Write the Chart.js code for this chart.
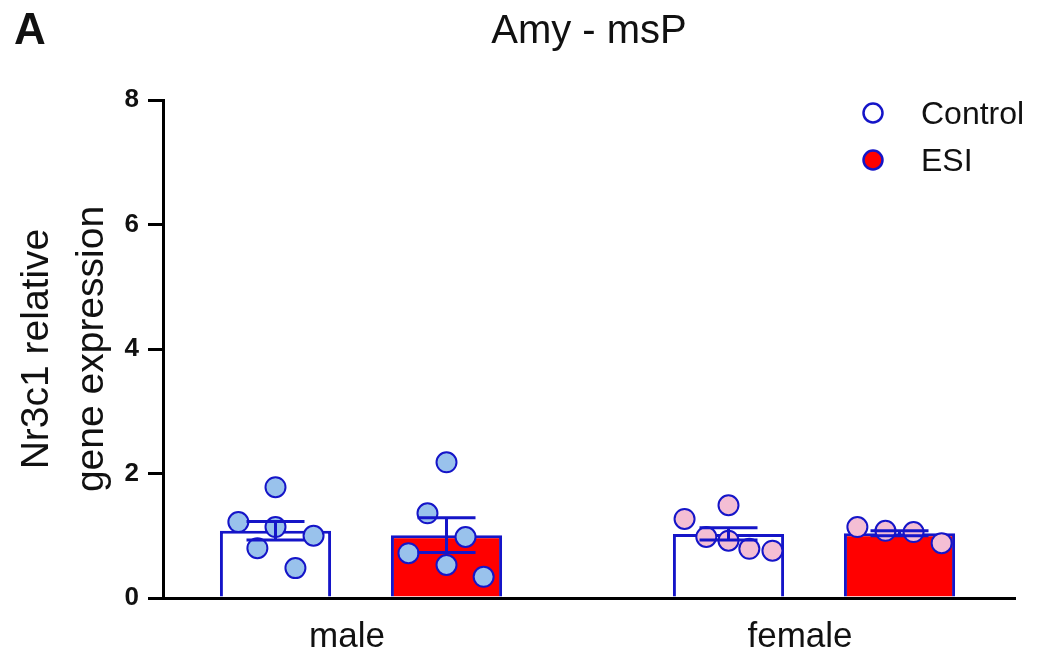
<!DOCTYPE html>
<html>
<head>
<meta charset="utf-8">
<script src="https://cdn.jsdelivr.net/npm/chart.js@4.4.1/dist/chart.umd.min.js"></script>
<style>
  html, body { margin: 0; padding: 0; background: #ffffff; }
  #wrap { width: 1041px; height: 657px; position: relative; }
</style>
</head>
<body>
<div id="wrap"><canvas id="c"></canvas></div>
<script>
// ---------- data ----------
const categories = ['male', 'female'];
const seriesNames = ['Control', 'ESI'];
const yTicks = [0, 2, 4, 6, 8];

const controlMeans = [1.08, 1.03];
const esiMeans = [1.01, 1.04];
const controlSEM = [0.15, 0.10];
const esiSEM = [0.28, 0.04];

// individual animals (y values) and horizontal jitter (in category units)
const maleControlPts = [1.78, 1.22, 1.14, 1.00, 0.80, 0.48];
const maleControlJit = [0.000, -0.082, 0.000, 0.084, -0.040, 0.044];
const maleEsiPts = [2.18, 1.36, 0.98, 0.72, 0.53, 0.34];
const maleEsiJit = [0.000, -0.042, 0.042, -0.084, 0.000, 0.082];
const femaleControlPts = [1.49, 1.27, 0.98, 0.92, 0.79, 0.76];
const femaleControlJit = [0.000, -0.097, -0.049, 0.000, 0.046, 0.097];
const femaleEsiPts = [1.14, 1.08, 1.06, 0.88];
const femaleEsiJit = [-0.093, -0.031, 0.031, 0.093];

// ---------- styling ----------
const BLUE = '#1515c8';
const RED = '#ff0000';
const MALE_FILL = '#99c2ec';
const FEMALE_FILL = '#f4bed4';
const TXT = '#111111';
const FONT = 'Arial, "Liberation Sans", Helvetica, sans-serif';
const CAT_PCT = 0.755;
const BAR_PCT = 0.65;

// bar-centre offset of each series inside its category (derived from the grouping)
const sideOffset = [-CAT_PCT / 4, CAT_PCT / 4];

function pts(catIdx, seriesIdx, ys, jit) {
  return ys.map((y, i) => ({ x: catIdx + sideOffset[seriesIdx] + jit[i], y: y }));
}

const barData = (means) => means.map((m, i) => ({ x: i, y: m }));

const scatterBase = {
  type: 'scatter',
  pointRadius: 10,
  pointHoverRadius: 10,
  pointBorderWidth: 2,
  borderColor: BLUE,
  order: 1,
  clip: false
};

const datasets = [
  { type: 'bar', label: seriesNames[0], data: barData(controlMeans), sem: controlSEM,
    backgroundColor: '#ffffff', borderColor: BLUE, borderWidth: 3, order: 2,
    categoryPercentage: CAT_PCT, barPercentage: BAR_PCT },
  { type: 'bar', label: seriesNames[1], data: barData(esiMeans), sem: esiSEM,
    backgroundColor: RED, borderColor: BLUE, borderWidth: 3, order: 2,
    categoryPercentage: CAT_PCT, barPercentage: BAR_PCT },
  Object.assign({}, scatterBase, { label: 'mc', data: pts(0, 0, maleControlPts, maleControlJit), backgroundColor: MALE_FILL, pointBackgroundColor: MALE_FILL, pointBorderColor: BLUE }),
  Object.assign({}, scatterBase, { label: 'me', data: pts(0, 1, maleEsiPts, maleEsiJit), backgroundColor: MALE_FILL, pointBackgroundColor: MALE_FILL, pointBorderColor: BLUE }),
  Object.assign({}, scatterBase, { label: 'fc', data: pts(1, 0, femaleControlPts, femaleControlJit), backgroundColor: FEMALE_FILL, pointBackgroundColor: FEMALE_FILL, pointBorderColor: BLUE }),
  Object.assign({}, scatterBase, { label: 'fe', data: pts(1, 1, femaleEsiPts, femaleEsiJit), backgroundColor: FEMALE_FILL, pointBackgroundColor: FEMALE_FILL, pointBorderColor: BLUE })
];

// ---------- plugins ----------
const errorBars = {
  id: 'errorBars',
  afterDatasetsDraw(chart) {
    const ctx = chart.ctx;
    const yS = chart.scales.y;
    const capW = 58;
    ctx.save();
    ctx.strokeStyle = BLUE;
    ctx.lineWidth = 3;
    chart.data.datasets.forEach((ds, di) => {
      if (ds.type !== 'bar') return;
      const meta = chart.getDatasetMeta(di);
      meta.data.forEach((el, j) => {
        const m = ds.data[j].y, s = ds.sem[j];
        const yTop = yS.getPixelForValue(m + s);
        const yBot = yS.getPixelForValue(m - s);
        const x = el.x;
        ctx.beginPath();
        ctx.moveTo(x, yTop); ctx.lineTo(x, yBot);
        ctx.moveTo(x - capW / 2, yTop); ctx.lineTo(x + capW / 2, yTop);
        ctx.moveTo(x - capW / 2, yBot); ctx.lineTo(x + capW / 2, yBot);
        ctx.stroke();
      });
    });
    ctx.restore();
  }
};

const decorations = {
  id: 'decorations',
  afterDraw(chart) {
    const ctx = chart.ctx;
    ctx.save();
    // panel letter
    ctx.fillStyle = TXT;
    ctx.font = 'bold 44px ' + FONT;
    ctx.textAlign = 'left';
    ctx.textBaseline = 'alphabetic';
    ctx.fillText('A', 14, 44);
    // legend
    const items = chart.data.datasets.filter(d => d.type === 'bar');
    const lx = 873, ly = [113, 160];
    items.forEach((d, i) => {
      ctx.beginPath();
      ctx.arc(lx, ly[i], 9.5, 0, Math.PI * 2);
      ctx.fillStyle = d.backgroundColor;
      ctx.fill();
      ctx.lineWidth = 2.5;
      ctx.strokeStyle = d.borderColor;
      ctx.stroke();
      ctx.fillStyle = TXT;
      ctx.font = '32px ' + FONT;
      ctx.textBaseline = 'alphabetic';
      ctx.fillText(d.label, 921, ly[i] + 11);
    });
    ctx.restore();
  }
};

// ---------- chart ----------
new Chart(document.getElementById('c'), {
  type: 'bar',
  data: { datasets: datasets },
  plugins: [errorBars, decorations],
  options: {
    responsive: true,
    maintainAspectRatio: false,
    animation: false,
    devicePixelRatio: 1,
    layout: { padding: { left: 0, right: 26, top: 0, bottom: 0 } },
    plugins: {
      legend: { display: false },
      tooltip: { enabled: false },
      title: {
        display: true,
        text: 'Amy - msP',
        fullSize: false,
        color: TXT,
        font: { family: FONT, size: 40, weight: 'normal', lineHeight: 1.2 },
        padding: { top: 8, bottom: 44 }
      }
    },
    scales: {
      x: {
        type: 'linear',
        offset: false,
        min: -0.4371,
        max: 1.4437,
        afterBuildTicks(scale) { scale.ticks = categories.map((c, i) => ({ value: i })); },
        afterFit(scale) { scale.height = 59; },
        grid: { display: false, drawTicks: false },
        border: { display: true, color: '#000000', width: 3 },
        ticks: {
          color: TXT,
          font: { family: FONT, size: 35 },
          padding: 18,
          maxRotation: 0,
          autoSkip: false,
          labelOffset: -14,
          callback: (v) => categories[v]
        }
      },
      y: {
        min: 0,
        max: 8,
        afterBuildTicks(scale) { scale.ticks = yTicks.map(v => ({ value: v })); },
        afterFit(scale) { scale.width = 163; },
        grid: { display: true, drawOnChartArea: false, drawTicks: true, tickLength: 15, color: '#000000', lineWidth: 3 },
        border: { display: true, color: '#000000', width: 3 },
        ticks: {
          color: TXT,
          font: { family: FONT, size: 26, weight: 'bold' },
          padding: 9
        },
        title: {
          display: true,
          text: ['Nr3c1 relative', 'gene expression'],
          color: TXT,
          font: { family: FONT, size: 39, weight: 'normal', lineHeight: 1.4 },
          padding: { top: 10, bottom: 0 }
        }
      }
    }
  }
});
</script>
</body>
</html>
